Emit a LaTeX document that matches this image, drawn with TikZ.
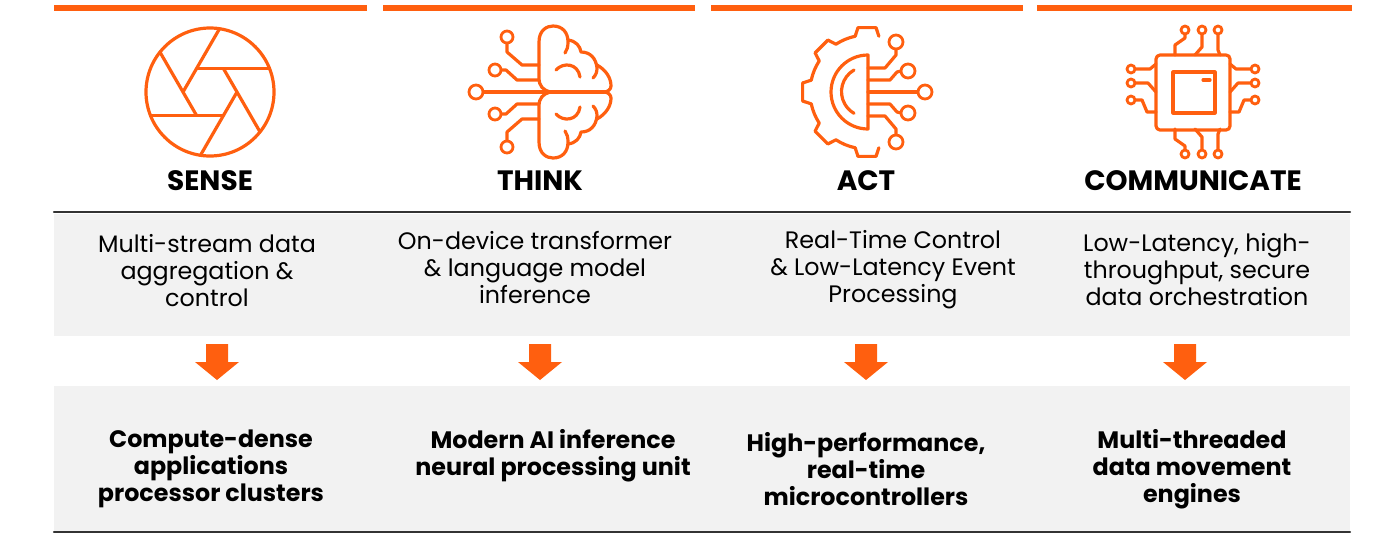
\documentclass[tikz,border=0pt]{standalone}
\usepackage{fontspec}
\setmainfont{Poppins}
\definecolor{brand}{HTML}{FF5F0F}
\definecolor{band}{HTML}{F2F2F2}
\definecolor{rule}{HTML}{333333}
\begin{document}
\begin{tikzpicture}[x=0.5pt,y=-0.5pt, line join=round, line cap=round]
  \tikzset{icon/.style={draw=brand, line width=1.6pt},
    pin/.style={draw=brand, line width=1.4pt, fill=white},
    title/.style={font=\fontsize{14}{16}\selectfont\bfseries},
    body/.style={font=\fontsize{11.9}{13.5}\selectfont, align=center},
    core/.style={font=\fontsize{11.9}{13.5}\selectfont\bfseries, align=center}}
  \useasboundingbox (0,0) rectangle (1400,537);
  % bands and rules
  \fill[band] (54,214) rectangle (1350,336);
  \fill[band] (54,386) rectangle (1350,531);
  \draw[rule, line width=1.1pt] (54,212) -- (1350,212);
  \draw[rule, line width=1.1pt] (54,532) -- (1350,532);
  \foreach \a/\b in {54/367, 383/695, 711/1023, 1037/1352}
    \fill[brand] (\a,5) rectangle (\b,11);
  % arrows
  \foreach \c in {217, 540, 866, 1185}
    \fill[brand] (\c-11,344) -- (\c+11,344) -- (\c+11,362) -- (\c+22,362)
      -- (\c,380) -- (\c-22,362) -- (\c-11,362) -- cycle;
  % sense: aperture
  \begin{scope}[shift={(210,92)}, yscale=-1]
    \draw[icon] (0,0) circle[radius=64];
    \foreach \k in {0,...,5}
      \draw[icon] (120+60*\k:27) -- ++(60*\k:73.1);
  \end{scope}
  % think: brain
  \begin{scope}[shift={(0,0)}]
    \foreach \s in {1,-1}{
      \begin{scope}[shift={(0,92)}, yscale=\s]
        \draw[icon] (550,0) .. controls (543,-2) and (539,-6) .. (539,-14) -- (539,-50)
          .. controls (539,-62) and (547,-66) .. (553,-66)
          .. controls (562,-66) and (568,-60) .. (568,-50) .. controls (568,-45) and (567,-42) .. (565,-39);
        \draw[icon] (568,-52) .. controls (576,-51) and (580,-46) .. (581,-40)
          .. controls (590,-40) and (596,-34) .. (597,-24) .. controls (597,-20) and (596,-17) .. (593,-14);
        \draw[icon] (597,-27) .. controls (606,-22) and (611,-14) .. (611,-6) .. controls (611,-3) and (608,0) .. (604,0);
        \draw[icon] (556,-22) .. controls (563,-30) and (578,-29) .. (580,-15);
        \draw[icon] (507,-49) -- (507,-40) -- (522,-27) -- (539,-27);
        \draw[icon] (501,-22) -- (506,-22) -- (517,-12) -- (539,-12);
        \draw[pin] (507,-55) circle[radius=6];
        \draw[pin] (495,-22) circle[radius=6];
      \end{scope}}
    \draw[icon] (483,92) -- (604,92);
    \draw[pin] (476,92) circle[radius=7];
  \end{scope}
  % act: gear
  \begin{scope}[shift={(867,92)}, yscale=-1]
    \draw[icon] (78:57) -- (82:65) -- (98:65) -- (102:57)
      arc[start angle=102, end angle=123, radius=57] -- (127:65) -- (143:65) -- (147:57)
      arc[start angle=147, end angle=168, radius=57] -- (172:65) -- (188:65) -- (192:57)
      arc[start angle=192, end angle=213, radius=57] -- (217:65) -- (233:65) -- (237:57)
      arc[start angle=237, end angle=258, radius=57] -- (262:65) -- (278:65) -- (282:57);
    \draw[icon] (1,37) -- (1,-37) arc[start angle=270, end angle=90, radius=37] -- cycle;
    \draw[icon] (-13,22) arc[start angle=120, end angle=240, radius=25];
  \end{scope}
  \foreach \s in {1,-1}{
    \begin{scope}[shift={(0,92)}, yscale=\s]
      \draw[icon] (868,-24) -- (885,-24) -- (896,-37) -- (896,-43);
      \draw[icon] (868,-12) -- (890,-12) -- (897,-20) -- (901,-21);
      \draw[pin] (896,-50) circle[radius=7];
      \draw[pin] (908,-21) circle[radius=7];
    \end{scope}}
  \draw[icon] (868,92) -- (918,92);
  \draw[pin] (925,92) circle[radius=7];
  % communicate: chip
  \draw[icon, rounded corners=2pt] (1156,55) rectangle (1230,130);
  \draw[icon] (1173,72) rectangle (1215,113);
  \draw[icon] (1203,80) -- (1210,80);
  \foreach \s in {1,-1}{
    \begin{scope}[shift={(1193,92)}, yscale=\s]
      \draw[icon] (-18,-37) -- (-18,-47) -- (-8,-54) -- (-8,-58);
      \draw[icon] (2,-37) -- (9,-45) -- (9,-58);
      \draw[icon] (27,-37) -- (25,-42) -- (25,-58);
      \foreach \px in {-8,9,25} \draw[pin] (\px,-62) circle[radius=4];
    \end{scope}
    \begin{scope}[shift={(1193,92)}, xscale=\s]
      \draw[icon] (-58,-23) -- (-43,-23) -- (-37,-28);
      \draw[icon] (-58,-9) -- (-45,-9) -- (-37,0);
      \draw[icon] (-58,8) -- (-51,8) -- (-46,20) -- (-37,20);
      \foreach \py in {-23,-9,8} \draw[pin] (-62,\py) circle[radius=4];
    \end{scope}}
  % titles
  \node[title] (senseT) at (210,181) {SENSE};
  \node[title] (thinkT) at (540,181) {THINK};
  \node[title] (actT) at (866,181) {ACT};
  \node[title] (commT) at (1193,181) {COMMUNICATE};
  % functions
  \node[body] (senseB) at (207,271) {Multi-stream data\\aggregation \&\\control};
  \node[body] (thinkB) at (535,268) {On-device transformer\\\& language model\\inference};
  \node[body] (actB) at (893,270) {Real-Time Control\\\& Low-Latency Event\\Processing};
  \node[body] (commB) at (1197,270) {Low-Latency, high-\\throughput, secure\\data orchestration};
  % cores
  \node[core] (senseC) at (211,469) {Compute-dense\\applications\\processor clusters};
  \node[core] (thinkC) at (553,456) {Modern AI inference\\neural processing unit};
  \node[core] (actC) at (866,469) {High-performance,\\real-time\\microcontrollers};
  \node[core] (commC) at (1192,469) {Multi-threaded\\data movement\\engines};
\end{tikzpicture}
\end{document}
